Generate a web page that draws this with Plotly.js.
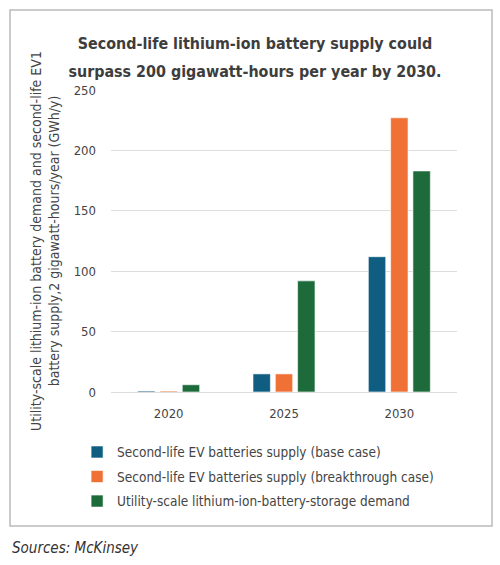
<!DOCTYPE html>
<html>
<head>
<meta charset="utf-8">
<script src="https://cdn.plot.ly/plotly-3.0.1.min.js"></script>
<style>
  html, body { margin: 0; padding: 0; background: #fff; }
  #chart { width: 500px; height: 565px; }
</style>
</head>
<body>
<div id="chart"></div>
<script>
// Years on the category axis
const years = ['2020', '2025', '2030'];

// Annual volumes, GWh/y
const baseCase = [0.8, 15, 112];
const breakthroughCase = [0.8, 15, 227];
const storageDemand = [6, 92, 183];

const seriesNames = [
  'Second-life EV batteries supply (base case)',
  'Second-life EV batteries supply (breakthrough case)',
  'Utility-scale lithium-ion-battery-storage demand'
];

const yTicks = [0, 50, 100, 150, 200, 250];

const FONT = '"DejaVu Sans Condensed", "Liberation Sans Narrow", "Arial Narrow", sans-serif';
const colors = ['#0f5e82', '#ef7136', '#1d6b3a'];

const values = [baseCase, breakthroughCase, storageDemand];
const traces = values.map((v, i) => ({
  type: 'bar',
  x: years,
  y: v,
  name: seriesNames[i],
  legendgroup: 'g' + i,
  marker: { color: colors[i], line: { color: '#ffffff', width: 0.6 } },
  hoverinfo: 'x+y+name'
}));

// Large base size sets the gap between the two title lines; the span sets the glyph size
const titleText =
  '<b><span style="font-size:15.9px">Second-life lithium-ion battery supply could</span></b>' +
  '<br><b><span style="font-size:15.9px">surpass 200 gigawatt-hours per year by 2030.</span></b>';

const layout = {
  width: 500,
  height: 565,
  paper_bgcolor: '#ffffff',
  plot_bgcolor: '#ffffff',
  font: { family: FONT, color: '#444444', size: 13 },
  margin: { l: 111, r: 43, t: 90, b: 173 },
  title: {
    text: titleText,
    font: { family: FONT, size: 22, color: '#3d3d3d' },
    x: 0.51, xanchor: 'center',
    y: 0.914, yanchor: 'middle', yref: 'container'
  },
  barmode: 'group',
  bargap: 0.42,
  bargroupgap: 0.22,
  xaxis: {
    type: 'category',
    showgrid: false,
    showline: false,
    ticks: '',
    ticklabelstandoff: 12,
    tickfont: { family: FONT, size: 13, color: '#444444' },
    fixedrange: true
  },
  yaxis: {
    range: [0, 250],
    tickvals: yTicks,
    ticktext: yTicks.map(String),
    showgrid: true,
    gridcolor: '#dddddd',
    gridwidth: 1,
    zeroline: true,
    zerolinecolor: '#dddddd',
    zerolinewidth: 1,
    showline: false,
    ticks: '',
    ticklabelstandoff: 14,
    tickfont: { family: FONT, size: 13, color: '#444444' },
    title: {
      text: 'Utility-scale lithium-ion battery demand and second-life EV1<br>battery supply,2 gigawatt-hours/year (GWh/y)',
      font: { family: FONT, size: 14, color: '#444444' },
      standoff: 10
    },
    fixedrange: true
  },
  showlegend: true,
  legend: {
    x: -0.098, xanchor: 'left',
    y: -0.148, yanchor: 'top',
    orientation: 'v',
    traceorder: 'grouped',
    tracegroupgap: 4,
    font: { family: FONT, size: 13.5, color: '#444444' },
    bgcolor: 'rgba(0,0,0,0)'
  },
  shapes: [{
    type: 'rect', xref: 'paper', yref: 'paper',
    x0: -0.2919, x1: 1.1012, y0: -0.4437, y1: 1.2649,
    line: { color: '#bbbbbb', width: 1.5 },
    fillcolor: 'rgba(0,0,0,0)', layer: 'below'
  }],
  annotations: [{
    text: '<i>Sources: McKinsey</i>',
    xref: 'paper', yref: 'paper',
    x: -0.2919, y: -0.5166, xanchor: 'left', yanchor: 'middle',
    showarrow: false,
    font: { family: FONT, size: 15, color: '#333333' }
  }]
};

Plotly.newPlot('chart', traces, layout, { displayModeBar: false, staticPlot: true });
</script>
</body>
</html>
